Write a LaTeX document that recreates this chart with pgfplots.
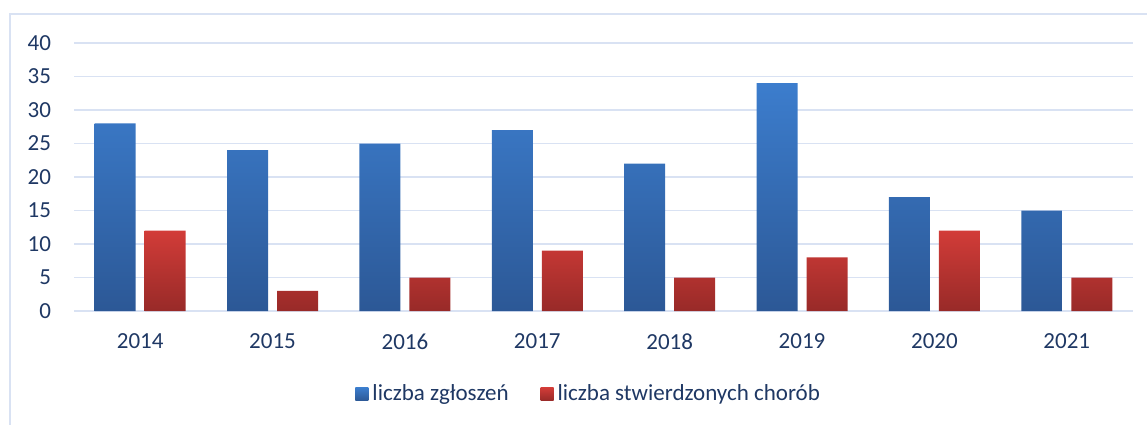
\documentclass[border=0pt]{standalone}
\usepackage{pgfplots}
\pgfplotsset{compat=1.18}
\usepackage{fontspec}
\setmainfont{Carlito}
\definecolor{gridc}{RGB}{217,226,243}
\definecolor{txt}{RGB}{31,56,100}
\definecolor{bluetop}{RGB}{60,125,205}
\definecolor{bluebot}{RGB}{44,88,150}
\definecolor{redtop}{RGB}{210,60,56}
\definecolor{redbot}{RGB}{152,42,40}
\begin{document}
\begin{tikzpicture}[x=0.5pt,y=0.5pt]
\draw[gridc, line width=0.75pt] (-64,-130) -- (-64,297) -- (1100,297);
\begin{axis}[
  at={(0,0)}, anchor=south west,
  scale only axis, width=529.5pt, height=134pt,
  xmin=-0.5, xmax=7.5, ymin=0, ymax=40,
  ytick={0,5,...,40},
  xtick={0,...,7},
  xticklabels={2014,2015,2016,2017,2018,2019,2020,2021},
  axis line style={draw=none},
  major tick length=0,
  ymajorgrids, grid style={gridc, line width=0.75pt},
  tick label style={font=\fontsize{11.5}{13}\selectfont, text=txt},
  /pgf/number format/assume math mode=true,
  yticklabel style={xshift=-8pt},
  xticklabel style={yshift=-8pt},
  ybar, bar width=20.5pt,
  legend style={at={(0.487,-0.31)}, anchor=center, draw=none, legend columns=2,
    font=\fontsize{11.5}{13}\selectfont, text=txt,
    /tikz/every even column/.append style={column sep=14pt}},
  legend image code/.code={\path[#1] (0pt,-3.25pt) rectangle (6.5pt,3.25pt);},
  clip=false,
]
\addplot[bar shift=-12.5pt, draw=none, top color=bluetop, bottom color=bluebot] coordinates {
(0,28) (1,24) (2,25) (3,27) (4,22) (5,34) (6,17) (7,15)};
\addlegendentry{liczba zgłoszeń}
\addplot[bar shift=12.5pt, draw=none, top color=redtop, bottom color=redbot] coordinates {
(0,12) (1,3) (2,5) (3,9) (4,5) (5,8) (6,12) (7,5)};
\addlegendentry{liczba stwierdzonych chorób}
\end{axis}
\pgfresetboundingbox
\useasboundingbox (-74,-113) rectangle (1073,311);
\end{tikzpicture}
\end{document}
